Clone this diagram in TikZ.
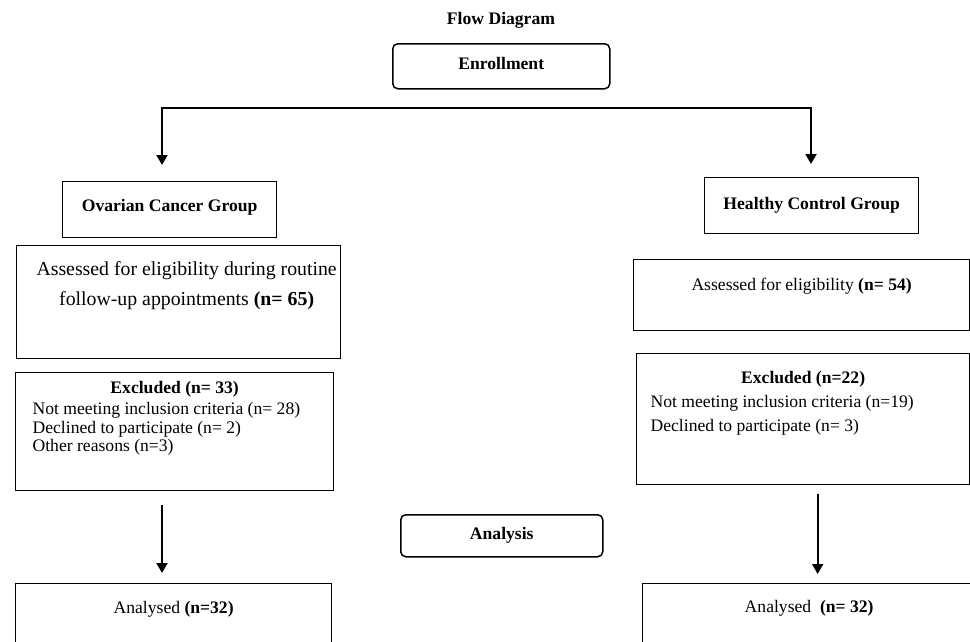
\documentclass[tikz,border=0pt]{standalone}
\usepackage{fontspec}
\setmainfont{Liberation Serif}
\usetikzlibrary{arrows.meta,positioning,calc}

\newcommand{\basefont}{\fontsize{17.6}{19}\selectfont}
\newcommand{\cellbox}[3]{\parbox[c][#2][t]{#1}{#3}}

\begin{document}
\begin{tikzpicture}[
    x=1pt, y=-1pt,
    font=\basefont,
    frame/.style={draw, line width=1.3pt, inner sep=0pt, anchor=north west},
    roundframe/.style={frame, rounded corners=5pt, line width=1.5pt, font=\basefont\bfseries},
    arrow/.style={-{Triangle[length=10pt,width=11pt]}, line width=2pt}
]
    \useasboundingbox (0,0) rectangle (970,641);
    \clip (0,0) rectangle (970,641);

    \node[font=\basefont\bfseries] (title) at (501,20) {Flow Diagram};
    \node[roundframe, minimum width=217pt, minimum height=45pt, text height=12pt, text depth=5pt] (enroll) at (392,43) {Enrollment};

    % split to both groups
    \coordinate (splitL) at (162,108);
    \coordinate (splitR) at (811,108);

    \node[frame, minimum width=214pt, minimum height=56pt, font=\basefont\bfseries, text depth=8pt] (ovarian) at (62,181) {Ovarian Cancer Group};
    \node[frame, minimum width=214pt, minimum height=56pt, font=\basefont\bfseries, text depth=5pt] (healthy) at (704,177) {Healthy Control Group};

    \draw[arrow, shorten >=16pt] (splitR) -- (splitL) -- (ovarian.north -| splitL);
    \draw[arrow, shorten >=13pt] (splitL) -- (splitR) -- (healthy.north -| splitR);

    % eligibility
    \node[frame] (assessL) at (16,245) {\cellbox{324pt}{113pt}{\vspace*{16pt}%
        \fontsize{19.8}{30}\selectfont
        \centering\leftskip=16pt plus 1fil\rightskip=0pt plus 1fil
        \rule{0pt}{14pt}Assessed for eligibility during routine\\
        follow-up appointments \textbf{(n= 65)}\par}};
    \node[frame] (assessR) at (633,259) {\cellbox{336pt}{71pt}{\vspace*{18pt}%
        \centering\rule{0pt}{13pt}Assessed for eligibility \textbf{(n= 54)}\par}};

    % exclusions
    \node[frame] (exclL) at (15,372) {\cellbox{318pt}{118pt}{\vspace*{8pt}%
        {\centering\rule{0pt}{13pt}\textbf{Excluded (n= 33)}\par}
        \vspace{2.5pt}
        {\raggedright\leftskip=17pt\baselineskip=18.5pt
        Not meeting inclusion criteria (n= 28)\\
        Declined to participate (n= 2)\\
        Other reasons (n=3)\par}}};
    \node[frame] (exclR) at (636,353) {\cellbox{333pt}{131pt}{\vspace*{17pt}%
        {\centering\rule{0pt}{13pt}\textbf{Excluded (n=22)}\par}
        {\raggedright\leftskip=14pt\baselineskip=24pt
        Not meeting inclusion criteria (n=19)\\
        Declined to participate (n= 3)\par}}};

    % analysis
    \node[roundframe, minimum width=202pt, minimum height=42pt] (analysis) at (400,514) {Analysis};
    \node[frame] (analL) at (15,583) {\cellbox{316pt}{100pt}{\vspace*{17pt}%
        \centering\rule{0pt}{13pt}Analysed \textbf{(n=32)}\par}};
    \node[frame] (analR) at (642,583) {\cellbox{333pt}{100pt}{\vspace*{16pt}%
        \centering\rule{0pt}{13pt}Analysed\ \ \textbf{(n= 32)}\par}};

    \draw[arrow, shorten <=14pt, shorten >=10pt] (exclL.south -| splitL) -- (analL.north -| splitL);
    \draw[arrow, shorten <=9pt, shorten >=9pt] ($(exclR.south)+(14.5,0)$) -- ($(analR.north)+(8.5,0)$);
\end{tikzpicture}
\end{document}
